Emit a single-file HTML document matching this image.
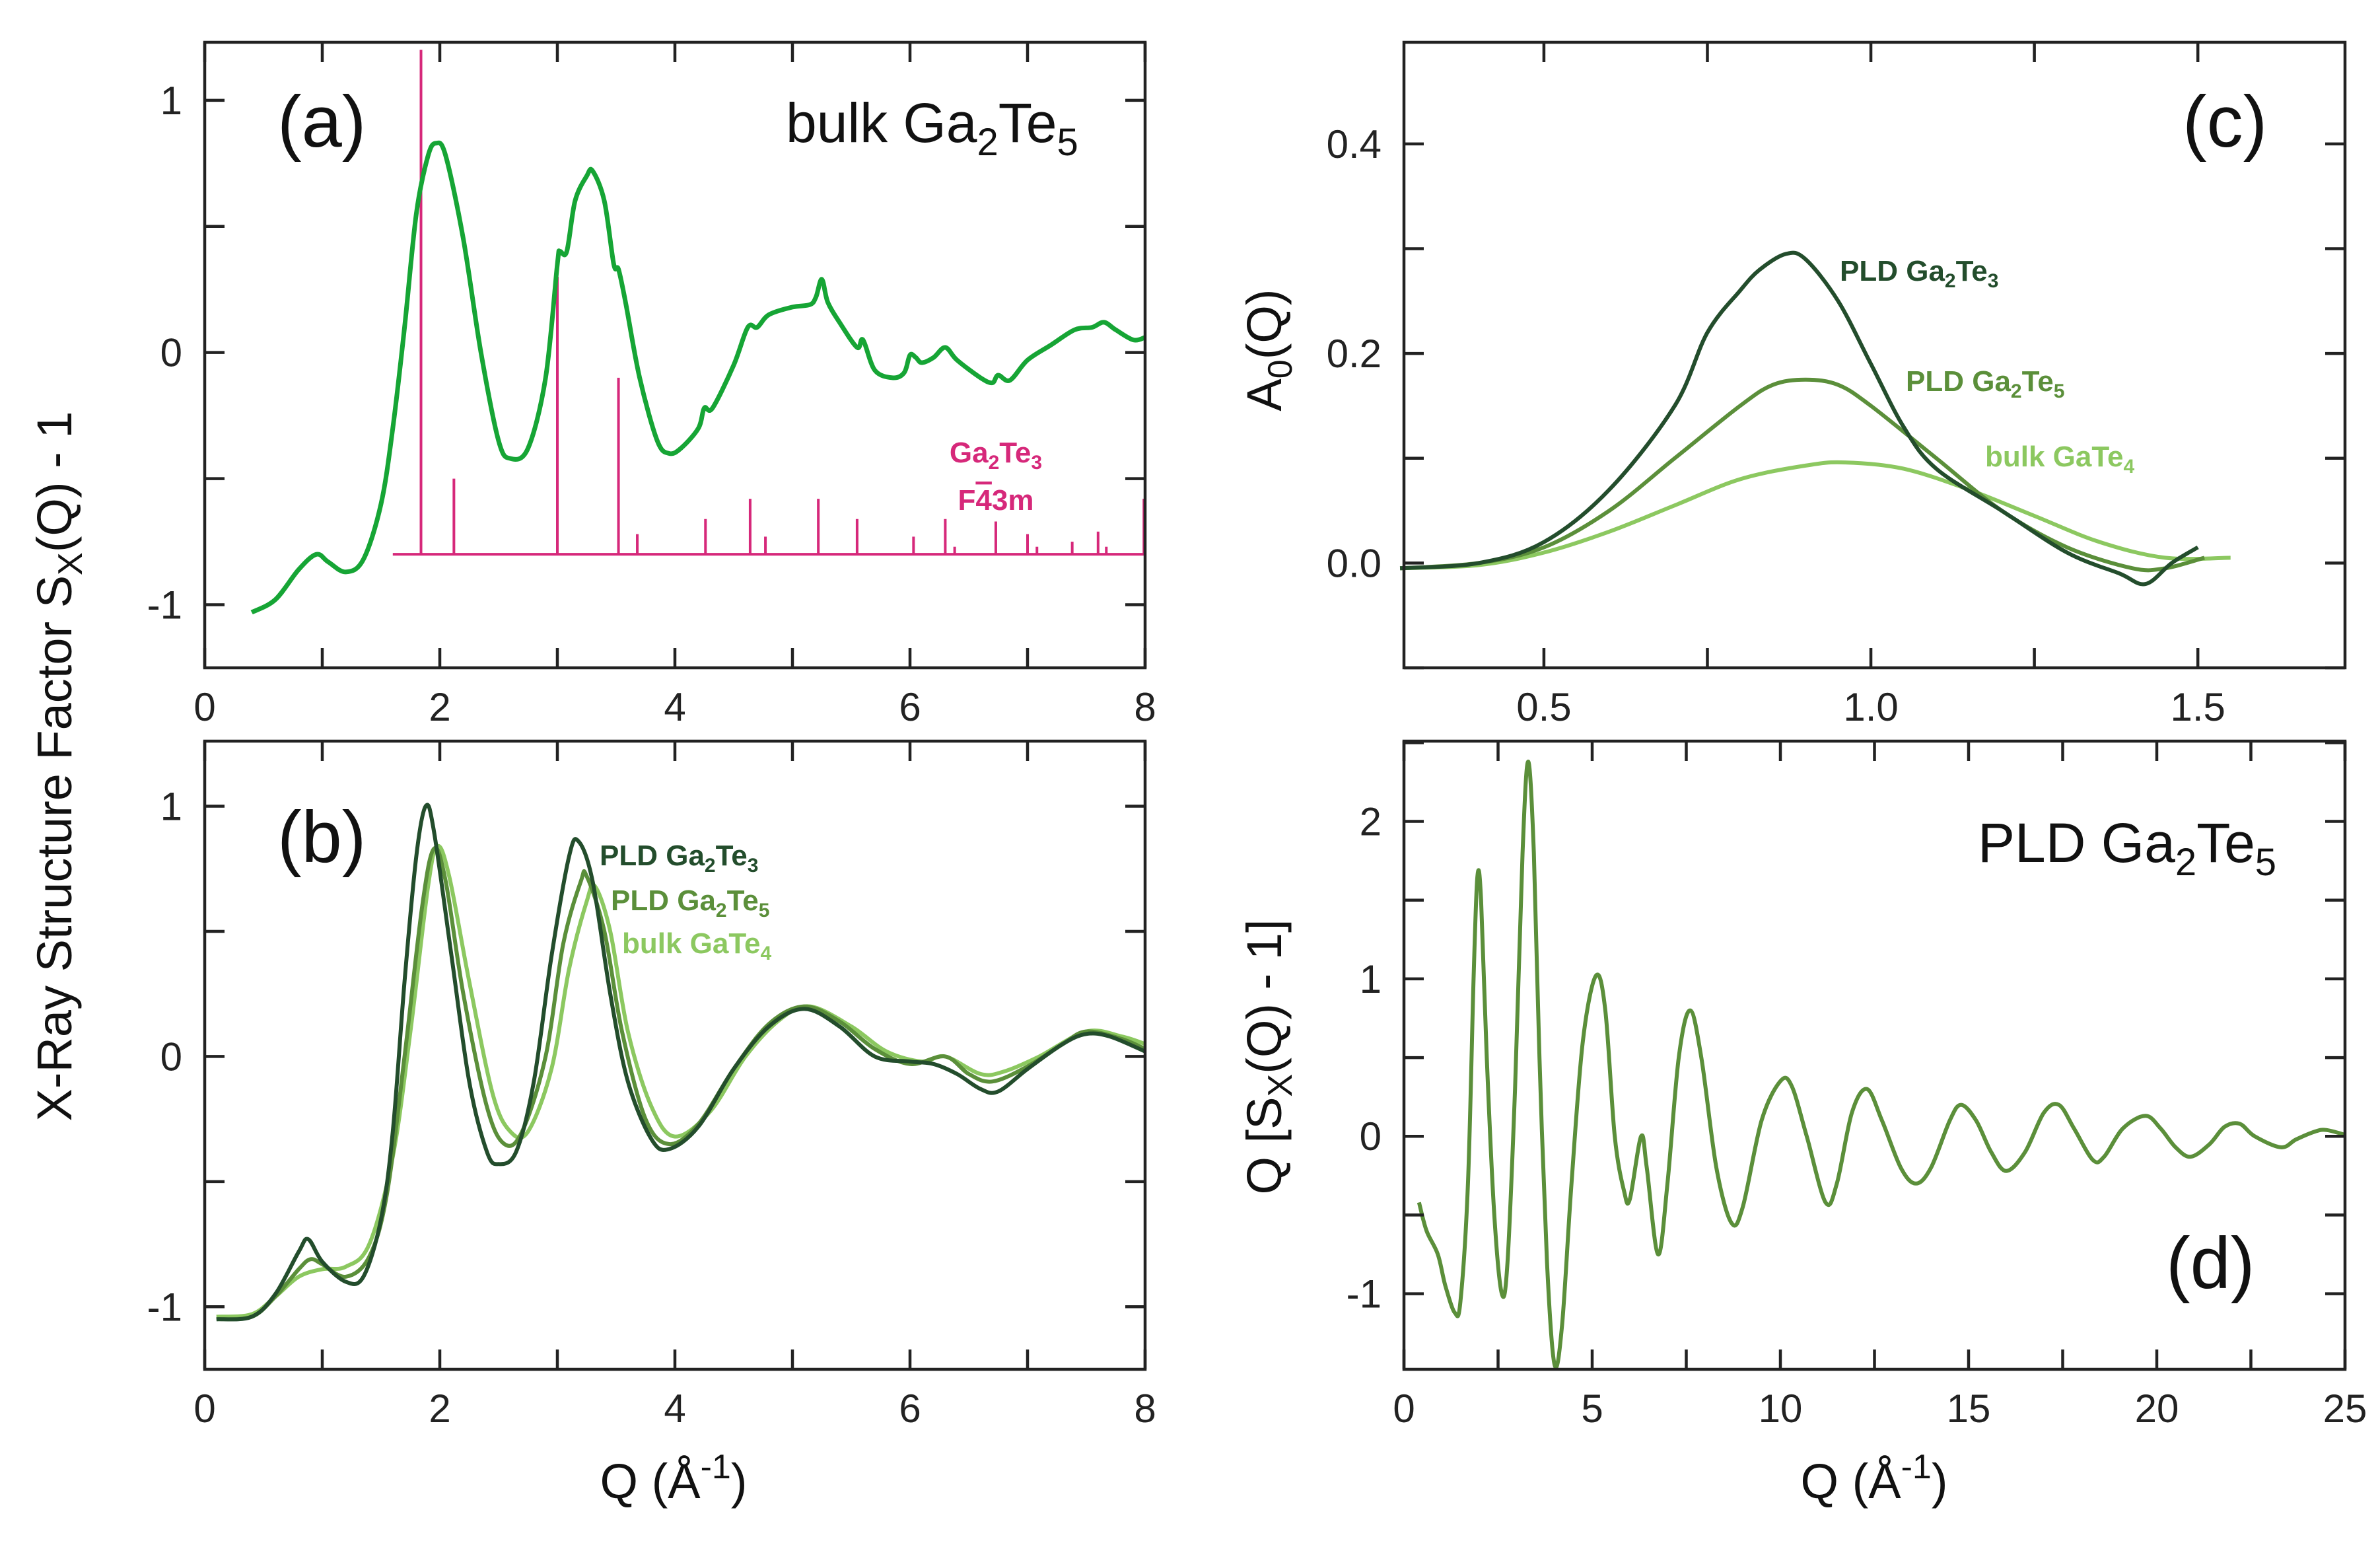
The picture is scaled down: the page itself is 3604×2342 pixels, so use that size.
<!DOCTYPE html>
<html><head><meta charset="utf-8"><style>
html,body{margin:0;padding:0;background:#fff;}
svg{display:block;font-family:"Liberation Sans",sans-serif;}
</style></head><body>
<svg id="fig" width="3604" height="2342" viewBox="0 0 3604 2342">
<g id="layer"></g>
<text transform="translate(108,1160) rotate(-90)" text-anchor="middle" font-size="74" fill="#111">X-Ray Structure Factor S<tspan font-size="52" dy="16">X</tspan><tspan dy="-16">(Q) - 1</tspan></text>
<text transform="translate(1940,530) rotate(-90)" text-anchor="middle" font-size="74" fill="#111">A<tspan font-size="52" dy="16">0</tspan><tspan dy="-16">(Q)</tspan></text>
<text transform="translate(1940,1600) rotate(-90)" text-anchor="middle" font-size="74" fill="#111">Q [S<tspan font-size="52" dy="16">X</tspan><tspan dy="-16">(Q) - 1]</tspan></text>
<text x="1020" y="2268" text-anchor="middle" font-size="74" fill="#111">Q (Å<tspan font-size="52" dy="-30">-1</tspan><tspan dy="30">)</tspan></text>
<text x="2838" y="2268" text-anchor="middle" font-size="74" fill="#111">Q (Å<tspan font-size="52" dy="-30">-1</tspan><tspan dy="30">)</tspan></text>
<text x="420" y="222" font-size="110" fill="#111">(a)</text>
<text x="420" y="1305" font-size="110" fill="#111">(b)</text>
<text x="3305" y="222" font-size="110" fill="#111">(c)</text>
<text x="3280" y="1950" font-size="110" fill="#111">(d)</text>
<text x="1190" y="215" font-size="84" fill="#111">bulk Ga<tspan font-size="58" dy="20">2</tspan><tspan dy="-20">Te</tspan><tspan font-size="58" dy="20">5</tspan></text>
<text x="2995" y="1305" font-size="84" fill="#111">PLD Ga<tspan font-size="58" dy="20">2</tspan><tspan dy="-20">Te</tspan><tspan font-size="58" dy="20">5</tspan></text>
<text x="1508" y="700" text-anchor="middle" font-size="44" font-weight="bold" fill="#d6287a">Ga<tspan font-size="30" dy="10">2</tspan><tspan dy="-10">Te</tspan><tspan font-size="30" dy="10">3</tspan></text>
<text x="1508" y="772" text-anchor="middle" font-size="44" font-weight="bold" fill="#d6287a">F<tspan text-decoration="overline">4</tspan>3m</text>
<text x="908" y="1310" font-size="44" font-weight="bold" fill="#234d2c">PLD Ga<tspan font-size="30" dy="10">2</tspan><tspan dy="-10">Te</tspan><tspan font-size="30" dy="10">3</tspan></text>
<text x="925" y="1378" font-size="44" font-weight="bold" fill="#5b8f3a">PLD Ga<tspan font-size="30" dy="10">2</tspan><tspan dy="-10">Te</tspan><tspan font-size="30" dy="10">5</tspan></text>
<text x="942" y="1443" font-size="44" font-weight="bold" fill="#8cc860">bulk GaTe<tspan font-size="30" dy="10">4</tspan></text>
<text x="2786" y="425" font-size="44" font-weight="bold" fill="#234d2c">PLD Ga<tspan font-size="30" dy="10">2</tspan><tspan dy="-10">Te</tspan><tspan font-size="30" dy="10">3</tspan></text>
<text x="2886" y="592" font-size="44" font-weight="bold" fill="#5b8f3a">PLD Ga<tspan font-size="30" dy="10">2</tspan><tspan dy="-10">Te</tspan><tspan font-size="30" dy="10">5</tspan></text>
<text x="3006" y="706" font-size="44" font-weight="bold" fill="#8cc860">bulk GaTe<tspan font-size="30" dy="10">4</tspan></text>
</svg>
<script>
const aX=[0.4,0.6,0.8,0.95,1.05,1.2,1.35,1.5,1.6,1.7,1.8,1.9,1.97,2.05,2.2,2.35,2.5,2.6,2.75,2.9,3.0,3.02,3.08,3.15,3.25,3.3,3.4,3.48,3.52,3.58,3.7,3.85,3.95,4.05,4.2,4.25,4.32,4.5,4.62,4.7,4.8,5.0,5.15,5.2,5.25,5.3,5.4,5.55,5.6,5.7,5.85,5.95,6.0,6.05,6.1,6.2,6.3,6.4,6.6,6.7,6.75,6.85,7.0,7.2,7.4,7.55,7.65,7.75,7.9,8.0];
const aY=[-1.03,-0.98,-0.86,-0.8,-0.83,-0.87,-0.82,-0.6,-0.3,0.1,0.55,0.78,0.83,0.78,0.45,0.0,-0.35,-0.42,-0.38,-0.1,0.35,0.4,0.4,0.6,0.7,0.72,0.6,0.35,0.33,0.2,-0.1,-0.35,-0.4,-0.38,-0.3,-0.22,-0.22,-0.05,0.1,0.1,0.15,0.18,0.19,0.22,0.29,0.2,0.12,0.02,0.05,-0.07,-0.1,-0.08,-0.01,-0.02,-0.04,-0.02,0.02,-0.03,-0.1,-0.12,-0.09,-0.11,-0.03,0.03,0.09,0.1,0.12,0.09,0.05,0.06];
const stickX=[1.84,2.12,3.0,3.52,3.68,4.26,4.64,4.77,5.22,5.55,6.03,6.3,6.38,6.73,7.0,7.08,7.38,7.6,7.67,7.99];
const stickY=[1.2,-0.5,0.3,-0.1,-0.72,-0.66,-0.58,-0.73,-0.58,-0.66,-0.73,-0.66,-0.77,-0.67,-0.72,-0.77,-0.75,-0.71,-0.77,-0.58];
const stickBase=-0.8, stickStart=1.6;

const b1X=[0.1,0.4,0.6,0.8,0.88,1.0,1.2,1.35,1.5,1.6,1.7,1.8,1.88,1.95,2.1,2.25,2.4,2.5,2.65,2.8,2.95,3.1,3.18,3.3,3.45,3.6,3.8,3.95,4.2,4.5,4.8,5.1,5.4,5.7,6.0,6.2,6.4,6.6,6.75,7.0,7.3,7.5,7.7,8.0];
const b1Y=[-1.05,-1.04,-0.95,-0.78,-0.73,-0.82,-0.9,-0.88,-0.65,-0.3,0.3,0.8,1.0,0.9,0.4,-0.1,-0.38,-0.43,-0.38,-0.1,0.4,0.8,0.86,0.7,0.25,-0.1,-0.33,-0.37,-0.28,-0.05,0.12,0.19,0.12,0.0,-0.02,-0.03,-0.07,-0.13,-0.14,-0.05,0.05,0.09,0.08,0.02];
const b2X=[0.1,0.4,0.6,0.8,0.9,1.0,1.2,1.4,1.55,1.7,1.85,1.95,2.05,2.2,2.4,2.55,2.7,2.9,3.05,3.2,3.25,3.4,3.55,3.75,3.95,4.2,4.5,4.8,5.1,5.4,5.7,6.0,6.3,6.5,6.7,7.0,7.3,7.5,7.8,8.0];
const b2Y=[-1.05,-1.04,-0.96,-0.85,-0.81,-0.83,-0.88,-0.8,-0.55,0.0,0.6,0.83,0.7,0.25,-0.2,-0.35,-0.3,0.0,0.45,0.7,0.72,0.5,0.1,-0.25,-0.35,-0.27,-0.05,0.13,0.2,0.14,0.03,-0.03,0.0,-0.07,-0.1,-0.04,0.05,0.1,0.07,0.03];
const b3X=[0.1,0.4,0.6,0.8,1.0,1.2,1.4,1.6,1.75,1.9,1.98,2.08,2.25,2.45,2.6,2.75,2.95,3.1,3.25,3.32,3.45,3.6,3.8,4.0,4.3,4.6,4.9,5.15,5.5,5.8,6.1,6.3,6.6,6.8,7.1,7.5,7.8,8.0];
const b3Y=[-1.04,-1.03,-0.96,-0.88,-0.85,-0.84,-0.75,-0.4,0.1,0.68,0.84,0.72,0.3,-0.15,-0.3,-0.3,-0.05,0.35,0.62,0.68,0.5,0.1,-0.2,-0.32,-0.22,0.0,0.15,0.2,0.12,0.02,-0.02,0.0,-0.07,-0.06,0.0,0.1,0.08,0.05];

const c1X=[0.28,0.4,0.5,0.6,0.7,0.75,0.8,0.83,0.87,0.9,0.95,1.0,1.05,1.1,1.2,1.3,1.38,1.42,1.46,1.5];
const c1Y=[-0.005,0.0,0.02,0.07,0.15,0.22,0.26,0.28,0.295,0.29,0.25,0.19,0.13,0.09,0.05,0.01,-0.01,-0.02,0.0,0.015];
const c2X=[0.28,0.4,0.5,0.6,0.7,0.8,0.85,0.9,0.95,1.0,1.1,1.2,1.3,1.4,1.45,1.51];
const c2Y=[-0.005,0.0,0.015,0.05,0.1,0.15,0.17,0.175,0.17,0.15,0.1,0.05,0.015,-0.005,-0.005,0.005];
const c3X=[0.28,0.4,0.5,0.6,0.7,0.8,0.9,0.96,1.05,1.15,1.25,1.35,1.45,1.55];
const c3Y=[-0.005,-0.002,0.01,0.03,0.055,0.08,0.093,0.096,0.09,0.07,0.045,0.02,0.005,0.005];

const dX=[0.4,0.6,0.9,1.1,1.35,1.5,1.7,1.85,1.95,2.05,2.2,2.4,2.6,2.75,2.95,3.15,3.3,3.45,3.6,3.8,4.0,4.2,4.45,4.75,5.1,5.35,5.6,5.85,6.0,6.3,6.45,6.75,7.0,7.3,7.6,7.9,8.3,8.7,9.0,9.5,10.0,10.3,10.7,11.2,11.5,11.9,12.3,12.7,13.2,13.6,14.0,14.5,14.8,15.2,15.6,16.0,16.5,17.0,17.4,17.8,18.3,18.6,19.1,19.7,20.1,20.5,20.9,21.4,21.8,22.2,22.6,23.3,23.7,24.2,24.5,25.0];
const dY=[-0.42,-0.6,-0.75,-0.95,-1.12,-1.05,-0.3,1.0,1.65,1.5,0.5,-0.5,-1.0,-0.8,0.3,1.8,2.38,1.8,0.5,-0.8,-1.45,-1.2,-0.3,0.6,1.02,0.8,0.0,-0.35,-0.4,0.0,-0.2,-0.75,-0.3,0.5,0.8,0.5,-0.2,-0.55,-0.45,0.1,0.35,0.32,0.0,-0.42,-0.3,0.15,0.3,0.1,-0.2,-0.3,-0.2,0.1,0.2,0.1,-0.1,-0.22,-0.1,0.15,0.2,0.05,-0.15,-0.13,0.05,0.13,0.05,-0.07,-0.13,-0.05,0.06,0.08,0.0,-0.07,-0.02,0.03,0.04,0.01];

const abXTicks=[0,2,4,6,8], abYTicks=[-1,0,1];
const cXTicks=[0.5,1.0,1.5], cYTicks=[0.0,0.2,0.4];
const dXTicks=[0,5,10,15,20,25], dYTicks=[-1,0,1,2];

const NS="http://www.w3.org/2000/svg";
const layer=document.getElementById('layer');
function mk(tag,attrs,parent){const e=document.createElementNS(NS,tag);for(const k in attrs)e.setAttribute(k,attrs[k]);(parent||layer).appendChild(e);return e;}
function axis(x0,x1,y0,y1,L,R,T,B){return {sx:v=>L+(v-x0)/(x1-x0)*(R-L),sy:v=>B-(v-y0)/(y1-y0)*(B-T),L,R,T,B};}
function smooth(pts){let d="M"+pts[0][0].toFixed(1)+","+pts[0][1].toFixed(1);
 for(let i=0;i<pts.length-1;i++){const p0=pts[i-1]||pts[i],p1=pts[i],p2=pts[i+1],p3=pts[i+2]||p2;
 const c1=[p1[0]+(p2[0]-p0[0])/6,p1[1]+(p2[1]-p0[1])/6],c2=[p2[0]-(p3[0]-p1[0])/6,p2[1]-(p3[1]-p1[1])/6];
 d+="C"+c1[0].toFixed(1)+","+c1[1].toFixed(1)+" "+c2[0].toFixed(1)+","+c2[1].toFixed(1)+" "+p2[0].toFixed(1)+","+p2[1].toFixed(1);}return d;}
function series(ax,xs,ys,color,w,name){const p=mk('path',{d:smooth(xs.map((x,i)=>[ax.sx(x),ax.sy(ys[i])])),fill:'none',stroke:color,'stroke-width':w,'stroke-linejoin':'round'});
 
 }
function frame(ax,name,xMinor,xMin,xMax,yMinor,yMin,yMax,xt,yt,fmtX,fmtY){
 const g=mk('g',{});
 
 
 mk('rect',{x:ax.L,y:ax.T,width:ax.R-ax.L,height:ax.B-ax.T,fill:'none',stroke:'#222','stroke-width':4.5},g);
 const tl=30;
 for(let v=xMin;v<=xMax+1e-9;v+=xMinor){const x=ax.sx(v);if(x<ax.L-1||x>ax.R+1)continue;
  mk('line',{x1:x,x2:x,y1:ax.B,y2:ax.B-tl,stroke:'#222','stroke-width':4.5},g);
  mk('line',{x1:x,x2:x,y1:ax.T,y2:ax.T+tl,stroke:'#222','stroke-width':4.5},g);}
 for(let v=yMin;v<=yMax+1e-9;v+=yMinor){const y=ax.sy(v);if(y<ax.T-1||y>ax.B+1)continue;
  mk('line',{x1:ax.L,x2:ax.L+tl,y1:y,y2:y,stroke:'#222','stroke-width':4.5},g);
  mk('line',{x1:ax.R,x2:ax.R-tl,y1:y,y2:y,stroke:'#222','stroke-width':4.5},g);}
 xt.forEach(v=>{const t=mk('text',{x:ax.sx(v),y:ax.B+80,'text-anchor':'middle','font-size':60,fill:'#222'},g);t.textContent=fmtX(v);
  
  });
 yt.forEach(v=>{const t=mk('text',{x:ax.L-34,y:ax.sy(v)+21,'text-anchor':'end','font-size':60,fill:'#222'},g);t.textContent=fmtY(v);
  
  });
}
const fInt=v=>String(v), f1=v=>v.toFixed(1);
const axA=axis(0,8,-1.25,1.23,310,1734,64,1011);
const axB=axis(0,8,-1.25,1.26,310,1734,1122,2073);
const axC=axis(0.286,1.725,-0.10,0.497,2126,3551,64,1011);
const axD=axis(0,25,-1.48,2.51,2126,3551,1122,2073);

const sg=mk('g',{});


mk('line',{x1:axA.sx(stickStart),x2:axA.sx(8),y1:axA.sy(stickBase),y2:axA.sy(stickBase),stroke:'#d6287a','stroke-width':4},sg);
stickX.forEach((x,i)=>{const l=mk('line',{x1:axA.sx(x),x2:axA.sx(x),y1:axA.sy(stickBase),y2:axA.sy(stickY[i]),stroke:'#d6287a','stroke-width':4},sg);
 
 });
series(axA,aX,aY,'#16a535',7,'bulk-ga2te5-curve');
frame(axA,'panel-a-axes',1,0,8,0.5,-1,1,abXTicks,abYTicks,fInt,fInt);
series(axB,b3X,b3Y,'#8cc860',6,'bulk-gate4-curve');
series(axB,b2X,b2Y,'#5b8f3a',6,'pld-ga2te5-curve');
series(axB,b1X,b1Y,'#234d2c',6,'pld-ga2te3-curve');
frame(axB,'panel-b-axes',1,0,8,0.5,-1,1,abXTicks,abYTicks,fInt,fInt);
series(axC,c3X,c3Y,'#8cc860',6,'c-bulk-gate4-curve');
series(axC,c2X,c2Y,'#5b8f3a',6,'c-pld-ga2te5-curve');
series(axC,c1X,c1Y,'#234d2c',6,'c-pld-ga2te3-curve');
frame(axC,'panel-c-axes',0.25,0.25,1.75,0.1,-0.1,0.5,cXTicks,cYTicks,f1,f1);
series(axD,dX,dY,'#5b8f3a',6,'pld-ga2te5-qs-curve');
frame(axD,'panel-d-axes',2.5,0,25,0.5,-1.5,2.5,dXTicks,dYTicks,fInt,fInt);
</script>
</body></html>
